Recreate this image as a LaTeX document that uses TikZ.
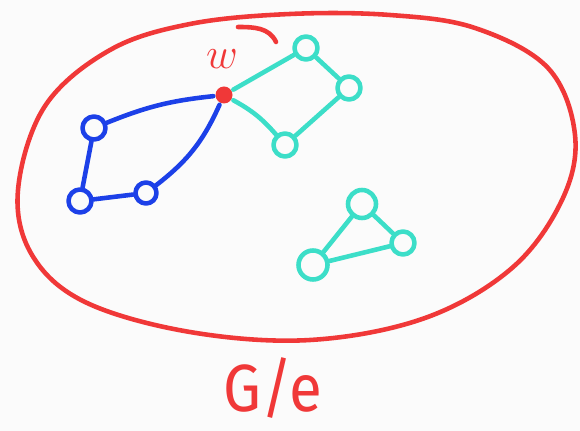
\documentclass[tikz,border=0pt]{standalone}
\usepackage{fontspec}
\setsansfont{Fira Sans}
\usetikzlibrary{positioning}

\definecolor{penred}{RGB}{240,56,56}
\definecolor{penblue}{RGB}{28,64,232}
\definecolor{pencyan}{RGB}{60,222,200}
\definecolor{paper}{RGB}{251,251,251}

\begin{document}
\begin{tikzpicture}[
    x=0.02cm, y=-0.02cm,
    line width=2.6pt, line cap=round, line join=round,
    vtx/.style={circle, draw, inner sep=0pt, minimum size=0.46cm},
    blue vtx/.style={vtx, draw=penblue},
    cyan vtx/.style={vtx, draw=pencyan},
    blue edge/.style={draw=penblue},
    cyan edge/.style={draw=pencyan}
]

    % --- Sheet ---
    \fill[paper] (0,0) rectangle (580,431);
    \useasboundingbox (0,0) rectangle (580,431);

    % --- Outer region ---
    \draw[penred] plot[smooth cycle, tension=0.6] coordinates {
        (190,24) (110,50) (45,106) (18,190) (32,255) (85,302)
        (190,332) (310,340) (425,318) (512,268) (562,200)
        (575,135) (548,68) (475,28) (390,15) (290,14)};
    \draw[penred] (238,27) to[out=0, in=115] (276,42);

    % --- Contracted vertex ---
    \node[circle, fill=penred, inner sep=0pt, minimum size=0.34cm] (vw) at (224,95) {};
    \node[text=penred, inner sep=0pt, font=\fontsize{38}{38}\selectfont] (lw) at (222,59) {$w$};

    % --- Blue cycle ---
    \node[blue vtx] (b1) at (94,128) {};
    \node[blue vtx] (b2) at (80,201) {};
    \node[blue vtx, minimum size=0.42cm] (b3) at (146,193) {};

    \draw[blue edge] (b1) to[bend left=8] (vw);
    \draw[blue edge] (b1) -- (b2);
    \draw[blue edge] (b2) -- (b3);
    \draw[blue edge] (b3) to[bend right=14] (vw);

    % --- Cyan cycle through w ---
    \node[cyan vtx] (c1) at (306,48) {};
    \node[cyan vtx] (c2) at (349,88) {};
    \node[cyan vtx] (c3) at (285,145) {};

    \draw[cyan edge] (vw) -- (c1);
    \draw[cyan edge] (c1) -- (c2);
    \draw[cyan edge] (c2) -- (c3);
    \draw[cyan edge] (c3) to[bend right=10] (vw);

    % --- Cyan triangle ---
    \node[cyan vtx, minimum size=0.56cm] (t1) at (362,204) {};
    \node[cyan vtx] (t2) at (403,243) {};
    \node[cyan vtx, minimum size=0.58cm] (t3) at (313,265) {};

    \draw[cyan edge] (t1) -- (t2);
    \draw[cyan edge] (t2) -- (t3);
    \draw[cyan edge] (t3) -- (t1);

    % --- Name of the graph ---
    \node[text=penred, inner sep=0pt, font=\sffamily\fontsize{38}{38}\selectfont, xscale=0.9] (lge) at (273,388) {G/e};

\end{tikzpicture}
\end{document}
